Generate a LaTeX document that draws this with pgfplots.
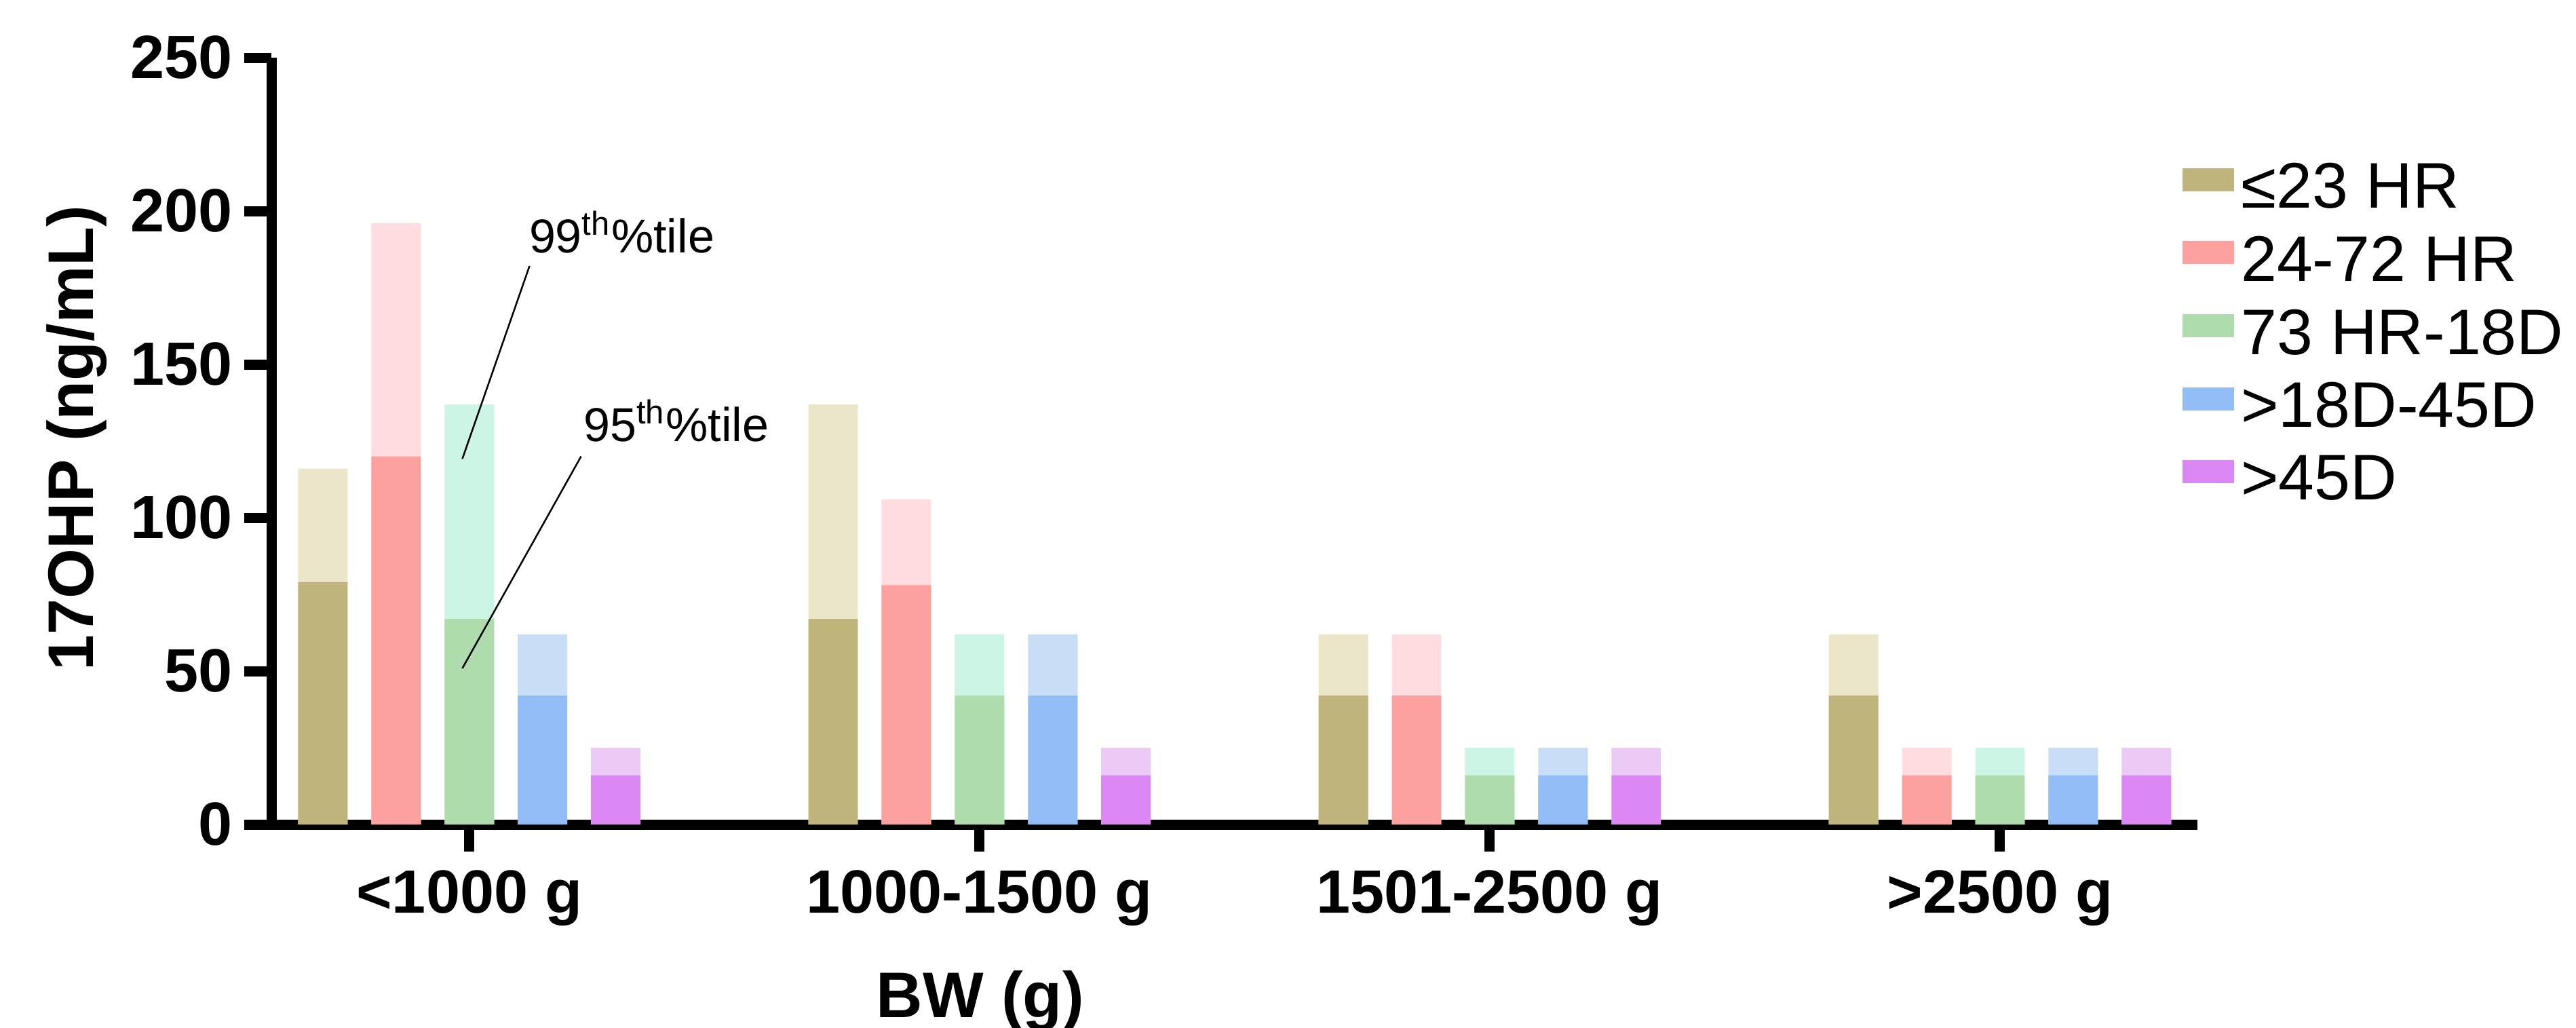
\documentclass[border=0pt]{standalone}
\usepackage{fontspec}
\setmainfont{Liberation Sans}
\usepackage{pgfplots}
\pgfplotsset{compat=1.18}
\usepackage{pgfplotstable}

\definecolor{tanD}{HTML}{BFB57C}
\definecolor{tanL}{HTML}{EBE5C9}
\definecolor{redD}{HTML}{FCA0A0}
\definecolor{redL}{HTML}{FFDCDF}
\definecolor{greenD}{HTML}{AEDCAD}
\definecolor{greenL}{HTML}{CCF5E5}
\definecolor{blueD}{HTML}{92BDF7}
\definecolor{blueL}{HTML}{C9DDF7}
\definecolor{purpleD}{HTML}{DB88F4}
\definecolor{purpleL}{HTML}{EBCBF6}

% g = BW group (0..3), p95 = 95th percentile, p99 = 99th percentile
\pgfplotstableread{
g p95 p99
0 79 116
1 67 137
2 42 62
3 42 62
}\tanT
\pgfplotstableread{
g p95 p99
0 120 196
1 78 106
2 42 62
3 16 25
}\redT
\pgfplotstableread{
g p95 p99
0 67 137
1 42 62
2 16 25
3 16 25
}\greenT
\pgfplotstableread{
g p95 p99
0 42 62
1 42 62
2 16 25
3 16 25
}\blueT
\pgfplotstableread{
g p95 p99
0 16 25
1 16 25
2 16 25
3 16 25
}\purpleT

\newcommand{\bfont}{\fontsize{18}{21}\selectfont\bfseries}
\newcommand{\lfont}{\fontsize{19}{22}\selectfont\bfseries}

\begin{document}
\begin{tikzpicture}
\useasboundingbox (-80pt,-59.8pt) rectangle (679.4pt,243pt);
\begin{axis}[
  at={(0pt,0pt)}, anchor=south west,
  scale only axis, width=567.8pt, height=226pt,
  xmin=-0.388, xmax=3.387, ymin=0, ymax=250,
  axis x line=bottom, axis y line=left,
  axis line style={-, line width=3pt},
  tick align=outside, major tick length=8pt,
  tick style={line width=3pt, black},
  xtick={0,1,2,3},
  xticklabels={{<1000 g},{1000-1500 g},{1501-2500 g},{>2500 g}},
  ytick={0,50,...,250},
  /pgf/number format/assume math mode=true,
  ticklabel style={font=\bfont},
  xticklabel style={yshift=-2pt},
  ylabel={17OHP (ng/mL)}, xlabel={BW (g)},
  label style={font=\lfont},
  ylabel style={at={(axis description cs:-0.101,0.504)}, anchor=center},
  xlabel style={at={(axis description cs:0.368,0)}, anchor=center, yshift=-52pt},
  clip=false,
  legend style={draw=none, fill=none, font=\fontsize{19}{22}\selectfont,
    at={(axis description cs:0.992,0.8725)}, anchor=north west,
    inner sep=0pt, row sep=2.8pt,
    /tikz/every even column/.append style={column sep=7.2pt}},
  legend cell align=left,
  legend image code/.code={\fill[#1] (0pt,-0.9pt) rectangle (15.2pt,5.9pt);},
]
\def\bw{0.097}
% 99th percentile (light, behind)
\addplot[ybar, bar width=\bw, bar shift=0pt, fill=tanL, draw=none, forget plot] table[x expr=\thisrow{g}-0.287, y=p99]{\tanT};
\addplot[ybar, bar width=\bw, bar shift=0pt, fill=redL, draw=none, forget plot] table[x expr=\thisrow{g}-0.1435, y=p99]{\redT};
\addplot[ybar, bar width=\bw, bar shift=0pt, fill=greenL, draw=none, forget plot] table[x expr=\thisrow{g}, y=p99]{\greenT};
\addplot[ybar, bar width=\bw, bar shift=0pt, fill=blueL, draw=none, forget plot] table[x expr=\thisrow{g}+0.1435, y=p99]{\blueT};
\addplot[ybar, bar width=\bw, bar shift=0pt, fill=purpleL, draw=none, forget plot] table[x expr=\thisrow{g}+0.287, y=p99]{\purpleT};
% 95th percentile (dark, front)
\addplot[ybar, bar width=\bw, bar shift=0pt, fill=tanD, draw=none] table[x expr=\thisrow{g}-0.287, y=p95]{\tanT};
\addlegendentry{≤23 HR}
\addplot[ybar, bar width=\bw, bar shift=0pt, fill=redD, draw=none] table[x expr=\thisrow{g}-0.1435, y=p95]{\redT};
\addlegendentry{24-72 HR}
\addplot[ybar, bar width=\bw, bar shift=0pt, fill=greenD, draw=none] table[x expr=\thisrow{g}, y=p95]{\greenT};
\addlegendentry{73 HR-18D}
\addplot[ybar, bar width=\bw, bar shift=0pt, fill=blueD, draw=none] table[x expr=\thisrow{g}+0.1435, y=p95]{\blueT};
\addlegendentry{>18D-45D}
\addplot[ybar, bar width=\bw, bar shift=0pt, fill=purpleD, draw=none] table[x expr=\thisrow{g}+0.287, y=p95]{\purpleT};
\addlegendentry{>45D}
% annotations
\node[anchor=base west, inner sep=0pt, font=\fontsize{14}{16}\selectfont] at (axis cs:0.116,186.3) {99\textsuperscript{th}\%tile};
\draw[line width=0.5pt] (axis cs:0.118,182.1) -- (axis cs:-0.0137,119.2);
\node[anchor=base west, inner sep=0pt, font=\fontsize{14}{16}\selectfont] at (axis cs:0.223,124.8) {95\textsuperscript{th}\%tile};
\draw[line width=0.5pt] (axis cs:0.219,120) -- (axis cs:-0.0137,50.9);
\end{axis}
\end{tikzpicture}
\end{document}
